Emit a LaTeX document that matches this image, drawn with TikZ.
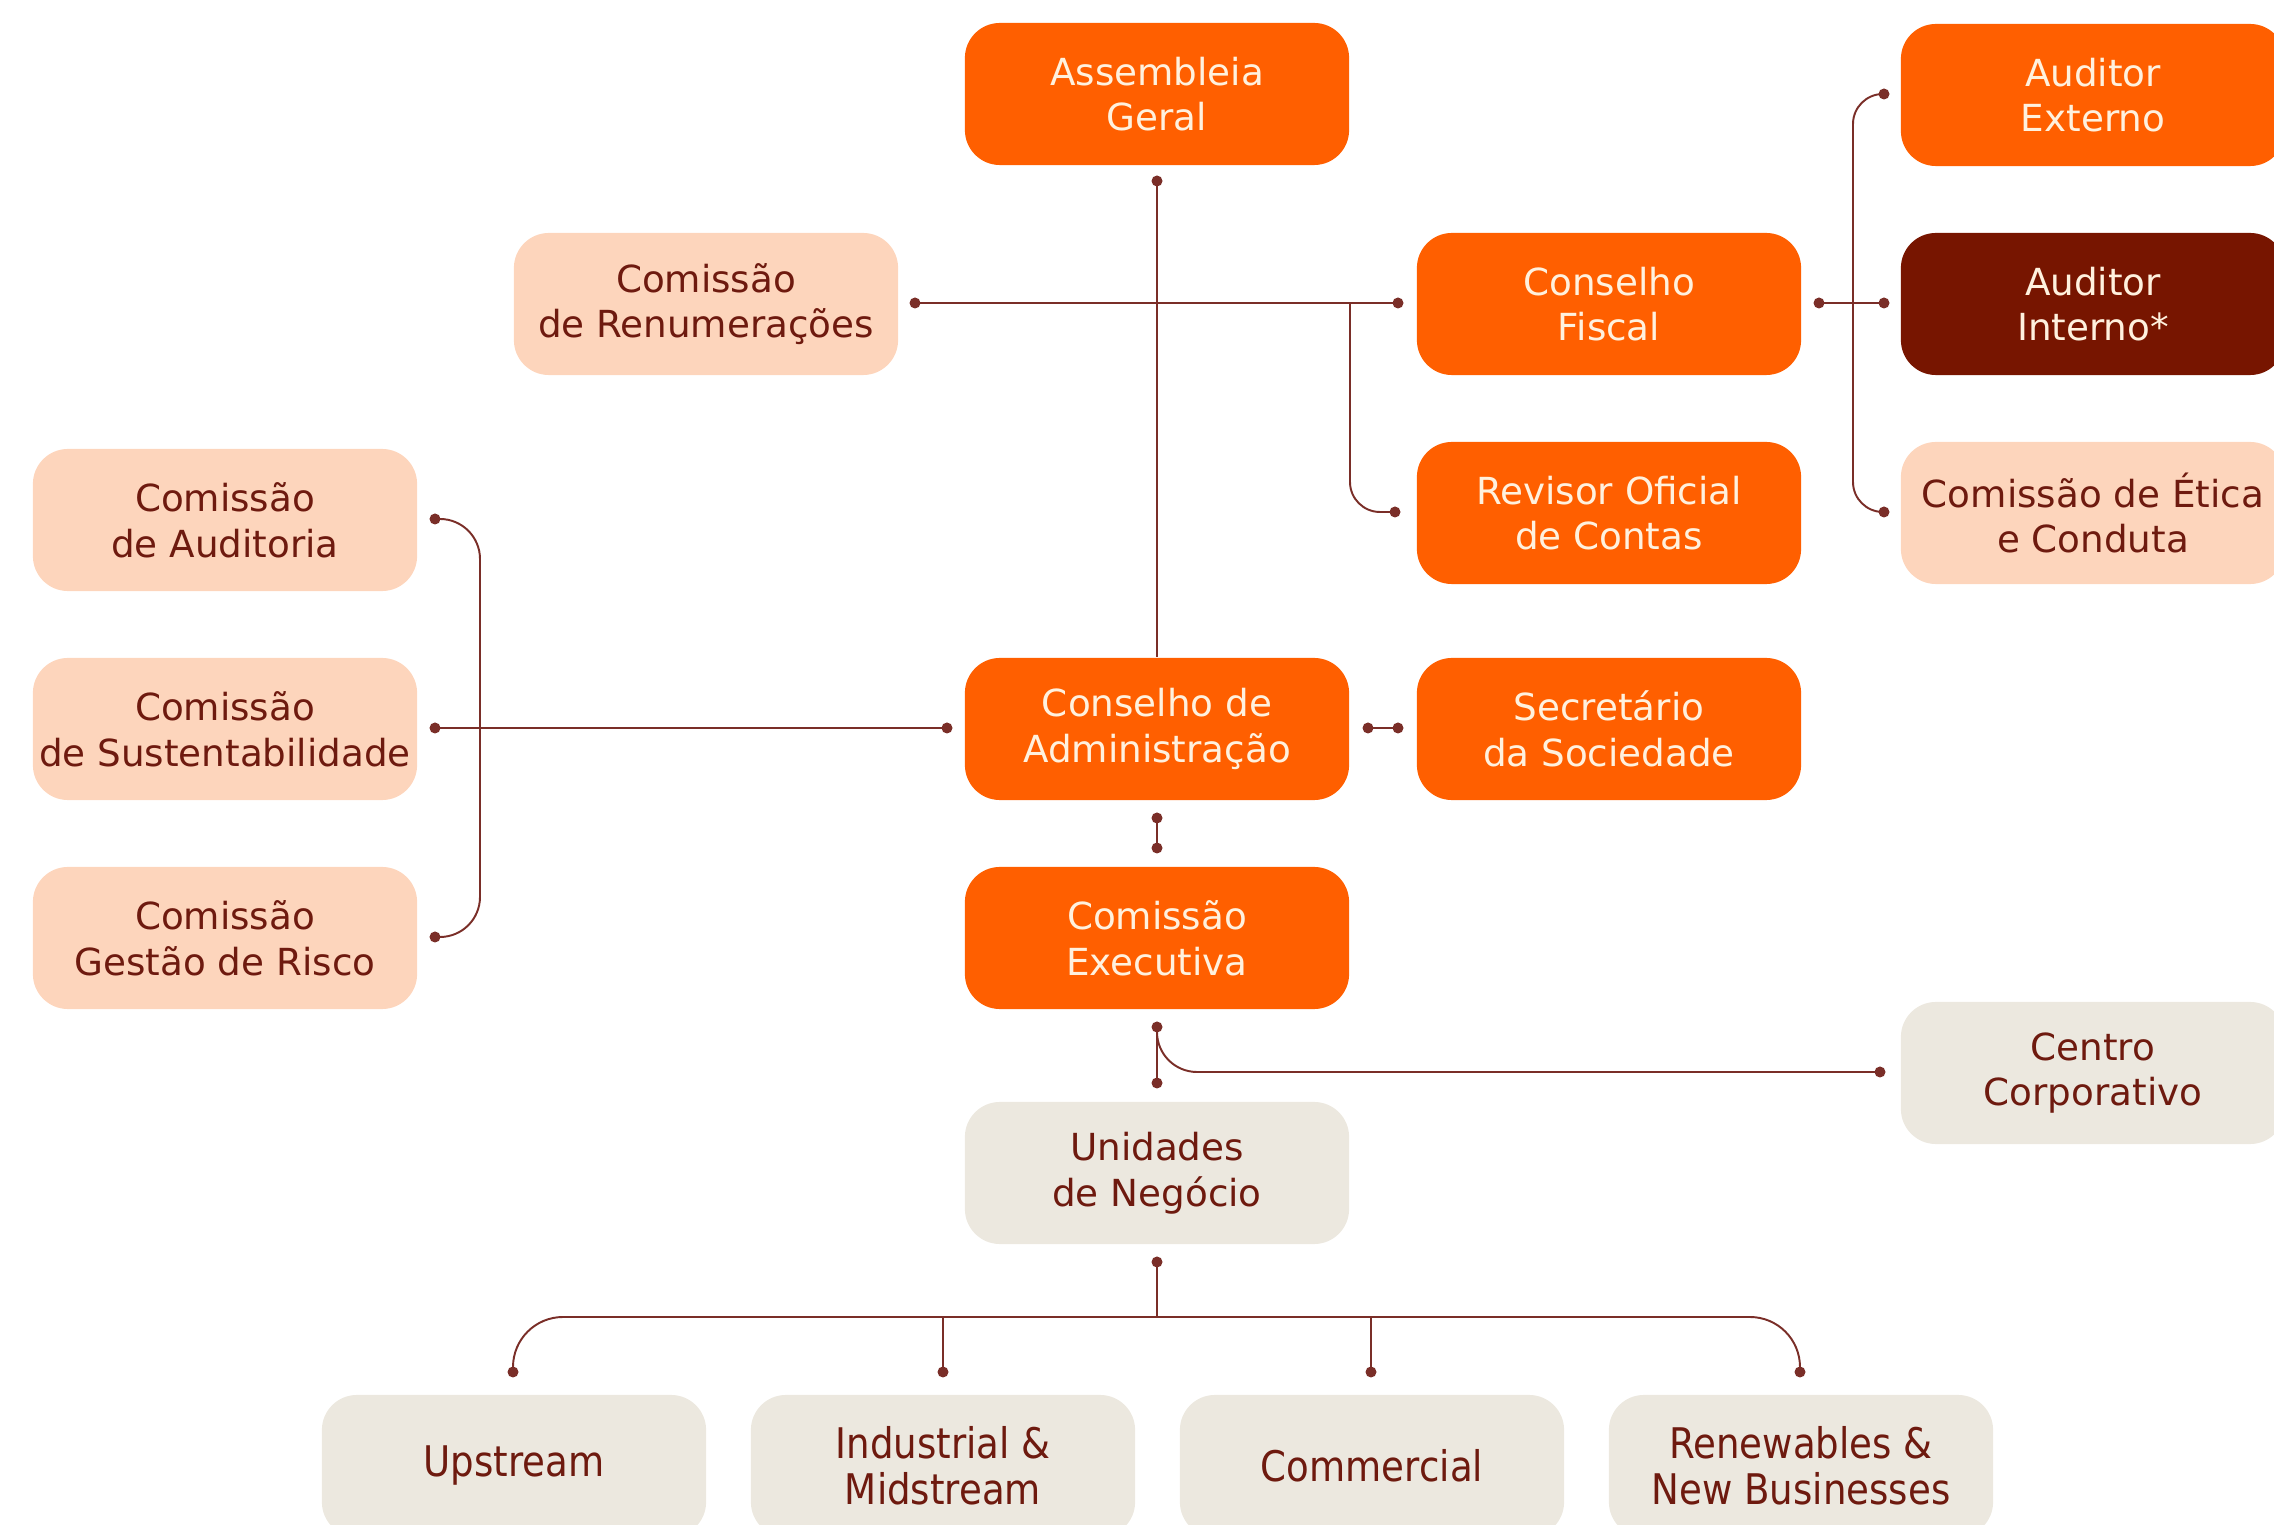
\documentclass[tikz,border=0pt]{standalone}
\usepackage{fontspec}
\setmainfont{DejaVu Sans}
\newfontfamily\narrowfont[FakeStretch=0.88]{DejaVu Sans}
\definecolor{orgbox}{HTML}{FF5F00}
\definecolor{peach}{HTML}{FDD5BC}
\definecolor{wine}{HTML}{771500}
\definecolor{sand}{HTML}{ECE8DF}
\definecolor{cream}{HTML}{FFF1DE}
\definecolor{maroon}{HTML}{6E1A0F}
\definecolor{linec}{HTML}{7A2E28}

\begin{document}
\begin{tikzpicture}
	  [x=0.01cm,y=-0.01cm,
	   every node/.style={rectangle,rounded corners=0.35cm,minimum width=3.84cm,minimum height=1.42cm,
	     align=center,inner sep=0pt,font=\fontsize{10.6}{13}\selectfont},
	   hot/.style={fill=orgbox,text=cream},
	   soft/.style={fill=peach,text=maroon},
	   dark/.style={fill=wine,text=cream},
	   base/.style={fill=sand,text=maroon},
	   unit/.style={fill=sand,text=maroon,font=\narrowfont\fontsize{12}{13}\selectfont},
	   link/.style={draw=linec,line width=0.55pt}]
	\useasboundingbox (0,0) rectangle (2274,1525);

	% boxes
	\node[hot]  (asm) at (1157,94)  {Assembleia\\Geral};
	\node[soft] (ren) at (706,304)  {Comissão\\de Renumerações};
	\node[hot]  (fis) at (1609,304) {Conselho\\Fiscal};
	\node[hot]  (ext) at (2093,95)  {Auditor\\Externo};
	\node[dark] (int) at (2093,304) {Auditor\\Interno*};
	\node[soft] (eti) at (2093,513) {Comissão de Ética\\e Conduta};
	\node[hot]  (rev) at (1609,513) {Revisor Oficial\\de Contas};
	\node[soft] (aud) at (225,520)  {Comissão\\de Auditoria};
	\node[soft] (sus) at (225,729)  {Comissão\\de Sustentabilidade};
	\node[soft] (rsk) at (225,938)  {Comissão\\Gestão de Risco};
	\node[hot]  (adm) at (1157,729) {Conselho de\\Administração};
	\node[hot]  (sec) at (1609,729) {Secretário\\da Sociedade};
	\node[hot]  (exe) at (1157,938) {Comissão\\Executiva};
	\node[base] (cen) at (2093,1073) {Centro\\Corporativo};
	\node[base] (uni) at (1157,1173) {Unidades\\de Negócio};
	\node[unit] (up)  at (514,1466)  {Upstream};
	\node[unit] (ind) at (943,1466)  {Industrial \&\\Midstream};
	\node[unit] (com) at (1372,1466) {Commercial};
	\node[unit] (rnw) at (1801,1466) {Renewables \&\\New Businesses};

	% connector ends
	\coordinate (asmB) at (1157,181);
	\coordinate (renR) at (915,303);
	\coordinate (fisL) at (1398,303);
	\coordinate (fork) at (1350,303);
	\coordinate (revL) at (1395,512);
	\coordinate (fisR) at (1819,303);
	\coordinate (intL) at (1884,303);
	\coordinate (extL) at (1884,94);
	\coordinate (etiL) at (1884,512);
	\coordinate (rbar) at (1853,512);
	\coordinate (audR) at (435,519);
	\coordinate (susR) at (435,728);
	\coordinate (rskR) at (435,937);
	\coordinate (lbar) at (480,937);
	\coordinate (admL) at (947,728);
	\coordinate (admR) at (1368,728);
	\coordinate (secL) at (1398,728);
	\coordinate (admB) at (1157,818);
	\coordinate (exeT) at (1157,848);
	\coordinate (exeB) at (1157,1027);
	\coordinate (uniT) at (1157,1083);
	\coordinate (cenL) at (1880,1072);
	\coordinate (uniB) at (1157,1262);
	\coordinate (bar)  at (1157,1317);
	\coordinate (upT)  at (513,1372);
	\coordinate (indT) at (943,1372);
	\coordinate (indJ) at (943,1317);
	\coordinate (comT) at (1371,1372);
	\coordinate (comJ) at (1371,1317);
	\coordinate (rnwT) at (1800,1372);

	\draw[link] (asmB) -- (adm);
	\foreach \from/\to in {renR/fisL,fisR/intL,susR/admL,admR/secL,admB/exeT,exeB/uniT,uniB/bar,indT/indJ,comT/comJ}
	  \draw[link] (\from) -- (\to);
	\draw[link,rounded corners=0.3cm] (fork) |- (revL);
	\draw[link,rounded corners=0.3cm] (extL) -| (rbar) -- (etiL);
	\draw[link,rounded corners=0.4cm] (audR) -| (lbar) -- (rskR);
	\draw[link,rounded corners=0.4cm] (exeB) |- (cenL);
	\draw[link,rounded corners=0.5cm] (upT) |- (bar) -| (rnwT);

	\foreach \d in {asmB,renR,fisL,revL,fisR,intL,extL,etiL,audR,susR,rskR,admL,admR,secL,admB,exeT,exeB,uniT,cenL,uniB,upT,indT,comT,rnwT}
	  \fill[linec] (\d) circle (0.055cm);
	\end{tikzpicture}
\end{document}
